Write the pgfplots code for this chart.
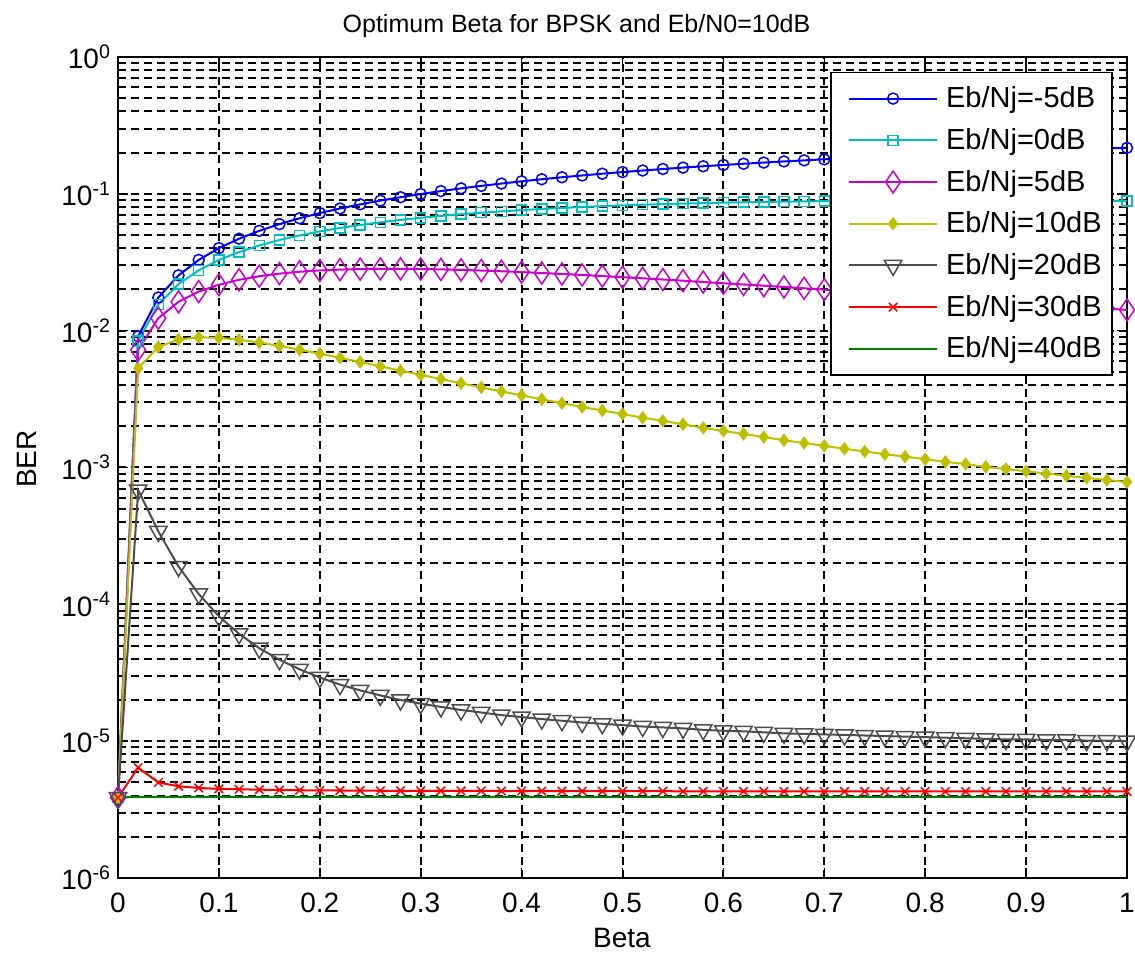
\documentclass[border=0pt]{standalone}
\usepackage{fontspec}
\setmainfont{Liberation Sans}
\usepackage{pgfplots}
\usepackage{pgfplotstable}
\pgfplotsset{compat=1.18}
\definecolor{mblue}{rgb}{0,0,1}
\definecolor{mcyan}{rgb}{0,0.75,0.75}
\definecolor{mmag}{rgb}{0.8,0,0.8}
\definecolor{myel}{rgb}{0.75,0.75,0}
\definecolor{mgrey}{rgb}{0.3,0.3,0.3}
\definecolor{mred}{rgb}{1,0,0}
\definecolor{mgreen}{rgb}{0,0.5,0}

\pgfplotstableread{
x     m5      z0      p5      p10      p20      p30
0.00  3.87e-6 3.87e-6 3.87e-6 3.87e-6  3.87e-6  3.87e-6
0.02  0.00910 0.00842 0.00723 0.00531  6.83e-4  6.40e-6
0.04  0.01747 0.01556 0.01234 0.00761  3.41e-4  4.99e-6
0.06  0.02537 0.02189 0.01625 0.00862  1.89e-4  4.68e-6
0.08  0.03289 0.02762 0.01930 0.00894  1.19e-4  4.55e-6
0.10  0.04009 0.03282 0.02168 0.00887  8.18e-5  4.48e-6
0.12  0.04700 0.03757 0.02354 0.00859  6.09e-5  4.45e-6
0.14  0.05366 0.04194 0.02500 0.00819  4.78e-5  4.42e-6
0.16  0.06008 0.04597 0.02611 0.00774  3.94e-5  4.40e-6
0.18  0.06630 0.04969 0.02695 0.00726  3.35e-5  4.38e-6
0.20  0.07230 0.05314 0.02754 0.00679  2.92e-5  4.37e-6
0.22  0.07810 0.05630 0.02794 0.00633  2.59e-5  4.36e-6
0.24  0.08380 0.05923 0.02820 0.00590  2.35e-5  4.35e-6
0.26  0.08920 0.06193 0.02829 0.00549  2.16e-5  4.34e-6
0.28  0.09450 0.06446 0.02831 0.00510  2.00e-5  4.34e-6
0.30  0.09970 0.06680 0.02823 0.00475  1.88e-5  4.34e-6
0.32  0.10470 0.06893 0.02803 0.00443  1.78e-5  4.33e-6
0.34  0.10960 0.07096 0.02781 0.00413  1.69e-5  4.33e-6
0.36  0.11430 0.07280 0.02750 0.00385  1.62e-5  4.33e-6
0.38  0.11890 0.07452 0.02717 0.00360  1.55e-5  4.32e-6
0.40  0.12340 0.07608 0.02680 0.00337  1.50e-5  4.32e-6
0.42  0.12780 0.07757 0.02638 0.00315  1.45e-5  4.32e-6
0.44  0.13210 0.07890 0.02596 0.00295  1.41e-5  4.32e-6
0.46  0.13620 0.08013 0.02553 0.00277  1.37e-5  4.31e-6
0.48  0.14030 0.08126 0.02506 0.00261  1.34e-5  4.31e-6
0.50  0.14420 0.08230 0.02460 0.00246  1.31e-5  4.31e-6
0.52  0.14800 0.08325 0.02413 0.00231  1.28e-5  4.31e-6
0.54  0.15180 0.08408 0.02365 0.00219  1.26e-5  4.31e-6
0.56  0.15550 0.08484 0.02318 0.00207  1.24e-5  4.30e-6
0.58  0.15900 0.08555 0.02268 0.00195  1.21e-5  4.30e-6
0.60  0.16250 0.08622 0.02220 0.00185  1.19e-5  4.30e-6
0.62  0.16590 0.08680 0.02176 0.00176  1.18e-5  4.30e-6
0.64  0.16920 0.08730 0.02131 0.00167  1.16e-5  4.30e-6
0.66  0.17250 0.08770 0.02086 0.00158  1.14e-5  4.30e-6
0.68  0.17560 0.08810 0.02040 0.00151  1.13e-5  4.30e-6
0.70  0.17870 0.08840 0.01995 0.00144  1.12e-5  4.29e-6
0.72  0.18170 0.08870 0.01948 0.00137  1.11e-5  4.29e-6
0.74  0.18460 0.08890 0.01902 0.00131  1.10e-5  4.29e-6
0.76  0.18750 0.08910 0.01862 0.00125  1.09e-5  4.29e-6
0.78  0.19030 0.08930 0.01820 0.00120  1.08e-5  4.29e-6
0.80  0.19300 0.08940 0.01779 0.00115  1.07e-5  4.29e-6
0.82  0.19560 0.08950 0.01739 0.00110  1.06e-5  4.29e-6
0.84  0.19820 0.08950 0.01700 0.00106  1.05e-5  4.29e-6
0.86  0.20070 0.08950 0.01662 0.00101  1.04e-5  4.29e-6
0.88  0.20320 0.08950 0.01624 0.000975 1.03e-5  4.29e-6
0.90  0.20560 0.08950 0.01589 0.000939 1.03e-5  4.29e-6
0.92  0.20790 0.08940 0.01552 0.000903 1.02e-5  4.29e-6
0.94  0.21030 0.08930 0.01517 0.000870 1.02e-5  4.29e-6
0.96  0.21250 0.08910 0.01483 0.000839 1.01e-5  4.29e-6
0.98  0.21470 0.08890 0.01450 0.000810 1.01e-5  4.29e-6
1.00  0.21680 0.08870 0.01418 0.000783 1.00e-5  4.29e-6
}\datatab

\pgfplotstableread{
x     p40
0.00  3.87e-6
0.02  3.92e-6
0.04  3.91e-6
0.06  3.91e-6
0.10  3.91e-6
0.20  3.91e-6
0.40  3.91e-6
0.60  3.91e-6
0.80  3.91e-6
1.00  3.91e-6
}\datatabb

\begin{document}
\begin{tikzpicture}
\begin{axis}[
  at={(0,0)}, anchor=south west,
  scale only axis, width=504.5pt, height=410.5pt,
  xmin=0, xmax=1, ymode=log, ymin=1e-6, ymax=1,
  xtick={0,0.1,0.2,0.3,0.4,0.5,0.6,0.7,0.8,0.9,1},
  xticklabels={0,0.1,0.2,0.3,0.4,0.5,0.6,0.7,0.8,0.9,1},
  ytick={1e-6,1e-5,1e-4,1e-3,1e-2,1e-1,1},
  yticklabels={10\textsuperscript{-6},10\textsuperscript{-5},10\textsuperscript{-4},10\textsuperscript{-3},10\textsuperscript{-2},10\textsuperscript{-1},10\textsuperscript{0}},
  minor ytick={2e-6,3e-6,4e-6,5e-6,6e-6,7e-6,8e-6,9e-6,
               2e-5,3e-5,4e-5,5e-5,6e-5,7e-5,8e-5,9e-5,
               2e-4,3e-4,4e-4,5e-4,6e-4,7e-4,8e-4,9e-4,
               2e-3,3e-3,4e-3,5e-3,6e-3,7e-3,8e-3,9e-3,
               2e-2,3e-2,4e-2,5e-2,6e-2,7e-2,8e-2,9e-2,
               0.2,0.3,0.4,0.5,0.6,0.7,0.8,0.9},
  minor xtick={},
  grid=both,
  major grid style={black, line width=1pt, dash pattern=on 4pt off 2.5pt},
  minor grid style={black, line width=1pt, dash pattern=on 4pt off 2.5pt},
  axis line style={black, line width=1pt},
  tick style={black, line width=0.8pt},
  major tick length=5pt, minor tick length=2.5pt,
  tick align=inside, tick pos=both,
  ticklabel style={font=\fontsize{14}{16}\selectfont},
  xticklabel style={yshift=-4pt},
  /pgf/number format/assume math mode=true,
  legend style={at={(0.986,0.982)}, anchor=north east, draw=black, line width=0.8pt,
    fill=white, font=\fontsize{14.5}{16}\selectfont, inner xsep=3.2pt, inner ysep=5pt,
    row sep=4.85pt, /tikz/every odd column/.append style={column sep=2pt}},
  legend cell align=left,
  legend image code/.code={\path (0pt,0pt); \draw[mark repeat=2,mark phase=2,#1] plot coordinates {(5.35pt,0pt)(27.35pt,0pt)(49.35pt,0pt)};},
]
\addplot[mblue, line width=1pt, mark=o, mark size=2.75pt, mark options={line width=0.75pt}] table[x=x,y=m5] {\datatab};
\addlegendentry{Eb/Nj=-5dB}
\addplot[mcyan, line width=1pt, mark=square, mark size=2.5pt, mark options={line width=0.75pt}] table[x=x,y=z0] {\datatab};
\addlegendentry{Eb/Nj=0dB}
\addplot[mmag, line width=1pt, mark=diamond, mark size=5.5pt, mark options={line width=0.75pt, xscale=0.9}] table[x=x,y=p5] {\datatab};
\addlegendentry{Eb/Nj=5dB}
\addplot[myel, line width=1pt, mark=diamond*, mark size=3pt, mark options={line width=0.5pt}] table[x=x,y=p10] {\datatab};
\addlegendentry{Eb/Nj=10dB}
\addplot[mgrey, line width=1pt, mark=triangle, mark size=5pt, mark options={line width=0.75pt, rotate=180}] table[x=x,y=p20] {\datatab};
\addlegendentry{Eb/Nj=20dB}
\addplot[mred, line width=1pt, mark=x, mark size=3pt, mark options={line width=0.75pt}] table[x=x,y=p30] {\datatab};
\addlegendentry{Eb/Nj=30dB}
\addplot[mgreen, line width=1pt, no marks] table[x=x,y=p40] {\datatabb};
\addlegendentry{Eb/Nj=40dB}
\end{axis}
\node[font=\fontsize{12.5}{15}\selectfont, anchor=base] at (229.25pt,422.5pt) {Optimum Beta for BPSK and Eb/N0=10dB};
\node[font=\fontsize{14}{16}\selectfont, anchor=base] at (252pt,-35pt) {Beta};
\node[font=\fontsize{14}{16}\selectfont, rotate=90, anchor=base] at (-40.5pt,209.5pt) {BER};
\pgfresetboundingbox
\path (-59pt,-41.5pt) rectangle (508.5pt,439pt);
\end{tikzpicture}
\end{document}
